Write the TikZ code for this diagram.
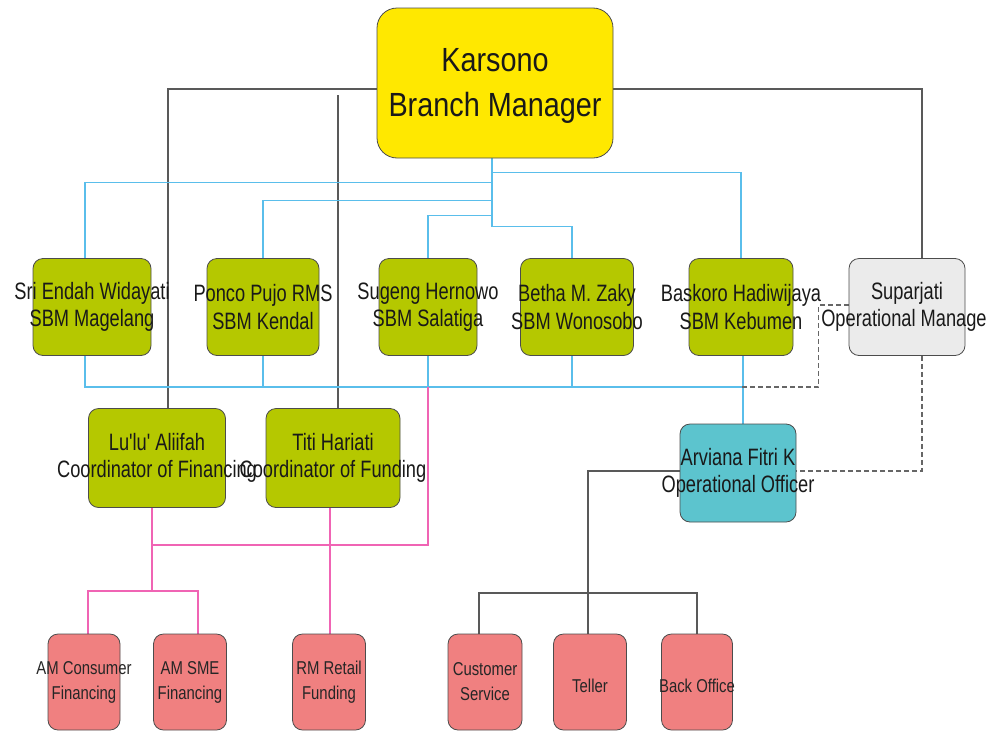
\documentclass[tikz,border=0pt]{standalone}
\usepackage{fontspec}
\setmainfont{Liberation Sans}[FakeStretch=0.8]
\newfontfamily\bigfont{Liberation Sans}[FakeStretch=0.86]
\newfontfamily\midfont{Liberation Sans}[FakeStretch=0.77]
\newfontfamily\smallfont{Liberation Sans}[FakeStretch=0.8]
\usetikzlibrary{backgrounds}
\definecolor{bmyellow}{RGB}{255,232,0}
\definecolor{sbmgreen}{RGB}{181,200,0}
\definecolor{opgray}{RGB}{235,235,235}
\definecolor{opteal}{RGB}{92,196,206}
\definecolor{staffred}{RGB}{240,128,128}
\definecolor{lineblue}{RGB}{90,190,235}
\definecolor{linepink}{RGB}{240,100,180}

\begin{document}
\begin{tikzpicture}[x=1pt,y=-1pt]
    \tikzset{box/.style={draw=black!70,line width=0.8pt,rounded corners=10pt,inner sep=0pt}}
    \tikzset{sbm/.style={box,fill=sbmgreen,minimum height=97pt}}
    \tikzset{staff/.style={box,fill=staffred,minimum width=73pt,minimum height=96pt}}
    \tikzset{bigtext/.style={align=center,text=black!90,font=\bigfont\fontsize{33.5}{45}\selectfont}}
    \tikzset{midtext/.style={align=center,text=black!90,font=\midfont\fontsize{23.7}{27.5}\selectfont}}
    \tikzset{smalltext/.style={align=center,text=black!85,font=\smallfont\fontsize{18.6}{25}\selectfont}}
    \tikzset{gline/.style={draw=black!65,line width=1.2pt}}
    \tikzset{bline/.style={draw=lineblue,line width=1.3pt}}
    \tikzset{pline/.style={draw=linepink,line width=1.3pt}}
    \tikzset{dline/.style={draw=black!60,line width=1.3pt,dash pattern=on 5pt off 3pt}}

    \useasboundingbox (0,0) rectangle (987,731);

    \node[box,fill=bmyellow,rounded corners=20pt,minimum width=236pt,minimum height=150pt,
          label={[bigtext,yshift=-3pt]center:{Karsono\\Branch Manager}}] (karsono) at (495,83) {};

    \node[sbm,minimum width=118pt,label={[midtext]center:{Sri Endah Widayati\\SBM Magelang}}] (sri) at (92,307) {};
    \node[sbm,minimum width=112pt,label={[midtext]center:{Ponco Pujo RMS\\SBM Kendal}}] (ponco) at (263,307) {};
    \node[sbm,minimum width=98pt,label={[midtext]center:{Sugeng Hernowo\\SBM Salatiga}}] (sugeng) at (428,307) {};
    \node[sbm,minimum width=113pt,label={[midtext]center:{Betha M. Zaky\\SBM Wonosobo}}] (betha) at (577,307) {};
    \node[sbm,minimum width=104pt,label={[midtext]center:{Baskoro Hadiwijaya\\SBM Kebumen}}] (baskoro) at (741,307) {};
    \node[box,fill=opgray,minimum width=116pt,minimum height=97pt,
          label={[midtext]center:{Suparjati\\Operational Manager}}] (suparjati) at (907,307) {};

    \node[sbm,minimum width=137pt,minimum height=99pt,label={[midtext]center:{Lu'lu' Aliifah\\Coordinator of Financing}}] (lulu) at (157,458) {};
    \node[sbm,minimum width=134pt,minimum height=99pt,label={[midtext]center:{Titi Hariati\\Coordinator of Funding}}] (titi) at (333,458) {};
    \node[box,fill=opteal,minimum width=116pt,minimum height=98pt,
          label={[midtext]center:{Arviana Fitri K\\Operational Officer}}] (arviana) at (738,473) {};

    \node[staff,minimum width=72pt,label={[smalltext]center:{AM Consumer\\Financing}}] (amcons) at (84,682) {};
    \node[staff,label={[smalltext]center:{AM SME\\Financing}}] (amsme) at (190,682) {};
    \node[staff,label={[smalltext]center:{RM Retail\\Funding}}] (rmretail) at (329,682) {};
    \node[staff,minimum width=74pt,label={[smalltext]center:{Customer\\Service}}] (custserv) at (485,682) {};
    \node[staff,label={[smalltext,yshift=-4pt]center:{Teller}}] (teller) at (590,682) {};
    \node[staff,minimum width=71pt,label={[smalltext,yshift=-4pt]center:{Back Office}}] (backoff) at (697,682) {};

    \coordinate (bm) at ([xshift=-3pt]karsono.south);
    \coordinate (bus) at (742,387);
    \coordinate (fin) at (152,545);
    \coordinate (ops) at (588,593);
    \coordinate (titiup) at (338,95);

    \begin{pgfonlayer}{background}
       \draw[gline] ([yshift=-6pt]karsono.west) -| ([xshift=11pt]lulu.north);
       \draw[gline] ([yshift=-6pt]karsono.east) -| ([xshift=15pt]suparjati.north);
       \draw[gline] (titiup) -- (titiup |- titi.north);

       \draw[bline] (bm) -- ++(0,14) -| (baskoro.north);
       \draw[bline] (bm) -- ++(0,24) -| ([xshift=-7pt]sri.north);
       \draw[bline] (bm) -- ++(0,42) -| (ponco.north);
       \draw[bline] (bm) -- ++(0,57) -| (sugeng.north);
       \draw[bline] (bm) -- ++(0,68) -| ([xshift=-5pt]betha.north);

       \draw[bline] ([xshift=-7pt]sri.south) |- (bus);
       \draw[bline] (ponco.south) -- (ponco.south |- bus);
       \draw[bline] (sugeng.south) -- (sugeng.south |- bus);
       \draw[bline] ([xshift=-5pt]betha.south) -- ++(0,31);
       \draw[bline] ([xshift=2pt]baskoro.south) -- ([xshift=5pt]arviana.north);

       \draw[pline] (sugeng.south |- bus) |- (fin);
       \draw[pline] ([xshift=-5pt]lulu.south) -- ++(0,83) -| ([xshift=4pt]amcons.north);
       \draw[pline] ([xshift=-5pt]lulu.south) ++(0,83) -| ([xshift=8pt]amsme.north);
       \draw[pline] ([xshift=-3pt]titi.south) -- ([xshift=1pt]rmretail.north);

       \draw[gline] ([yshift=2pt]arviana.west) -| (ops);
       \draw[gline] ([xshift=-6pt]custserv.north) |- (ops) -| (backoff.north);
       \draw[gline] (ops) -- (ops |- teller.north);

       \draw[dline] ([yshift=2pt]suparjati.west) -- ++(-30,0) |- (bus);
       \draw[dline] ([xshift=15pt]suparjati.south) |- ([yshift=2pt]arviana.east);
    \end{pgfonlayer}
\end{tikzpicture}
\end{document}
